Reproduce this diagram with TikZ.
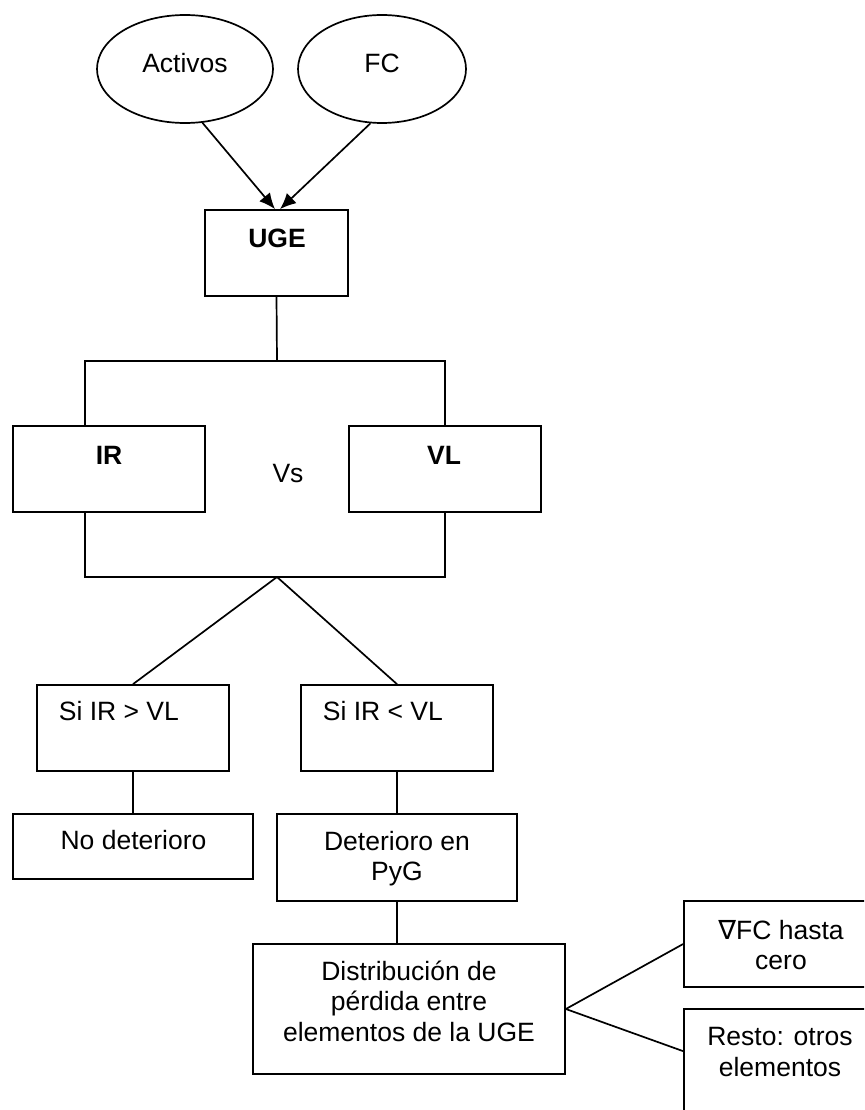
\documentclass[tikz,border=0pt]{standalone}
\usepackage{fontspec}
\setmainfont{Liberation Sans}
\newfontfamily\nablafont{DejaVu Sans}
\usetikzlibrary{shapes.geometric,arrows.meta}
\begin{document}
\begin{tikzpicture}[x=1pt,y=-1pt,
  line width=1.7pt,
  box/.style={draw, rectangle, inner sep=0pt},
  oval/.style={draw, ellipse, inner sep=0pt},
  txt/.style={inner sep=0pt, align=center,
    font=\fontsize{26.5}{30.5}\selectfont,
    execute at begin node=\strut, execute at end node=\strut},
  bold/.style={txt, font=\fontsize{26.5}{30.5}\selectfont\bfseries},
  arr/.style={-{Latex[length=16pt,width=14pt]}}]
\clip (0,0) rectangle (864,1110);

% inputs
\node[oval, minimum width=176pt, minimum height=108pt] (act) at (185,69) {};
\node[oval, minimum width=168pt, minimum height=108pt] (fc) at (382,69) {};
\node[txt] (actT) at (185,66.4) {Activos};
\node[txt] (fcT) at (382,66.4) {FC};

% cash generating unit
\node[box, minimum width=143pt, minimum height=86pt] (uge) at (276.5,253) {};
\node[bold] (ugeT) at (277,241.4) {UGE};

% comparison
\node[box, minimum width=192pt, minimum height=86pt] (ir) at (109,469) {};
\node[box, minimum width=192pt, minimum height=86pt] (vl) at (445,469) {};
\node[bold] (irT) at (109,458.4) {IR};
\node[bold] (vlT) at (444,458.4) {VL};
\node[txt] (vs) at (288,476.4) {Vs};

% outcomes
\node[box, minimum width=192pt, minimum height=86pt] (si1) at (133,728) {};
\node[box, minimum width=192pt, minimum height=86pt] (si2) at (397,728) {};
\node[txt, anchor=west] (si1T) at (58,714.4) {Si IR > VL};
\node[txt, anchor=west] (si2T) at (322,714.4) {Si IR < VL};

\node[box, minimum width=240pt, minimum height=65pt] (nodet) at (133,846.5) {};
\node[txt] (nodetT) at (133.5,843.4) {No deterioro};
\node[box, minimum width=240pt, minimum height=87pt] (det) at (397,857.5) {};
\node[txt] (detT) at (397,860.4) {Deterioro en\\PyG};

\node[box, minimum width=312pt, minimum height=130pt] (dist) at (409,1009) {};
\node[txt] (distT) at (409,1005.4) {Distribución de\\pérdida entre\\elementos de la UGE};

\node[box, minimum width=196pt, minimum height=86pt] (fcz) at (782,944) {};
\node[txt] (fczT) at (781,949.4) {{\nablafont ∇}FC hasta\\cero};
\node[box, minimum width=196pt, minimum height=131pt] (rest) at (782,1074.5) {};
\node[txt] (restT) at (780,1056.4) {Resto: otros\\elementos};

% connectors
\coordinate (lx) at (85,0);
\coordinate (j1) at (277,361);
\coordinate (j2) at (277,577);

\draw[arr] (act.-72.5) -- ([xshift=-1.5pt]uge.north);
\draw[arr] (fc.-102.5) -- ([xshift=3.5pt]uge.north);

\draw (uge.south) -- (j1);
\draw (ir.north -| lx) |- (j1) -| (vl.north);
\draw (ir.south -| lx) |- (j2) -| (vl.south);

\draw (j2) -- (si1.north);
\draw (j2) -- (si2.north);

\draw (si1.south) -- (nodet.north);
\draw (si2.south) -- (det.north);
\draw (det.south) -- (det.south |- dist.north);

\draw (dist.east) -- (fcz.west);
\draw (dist.east) -- ([yshift=-43pt]rest.north west);
\end{tikzpicture}
\end{document}
